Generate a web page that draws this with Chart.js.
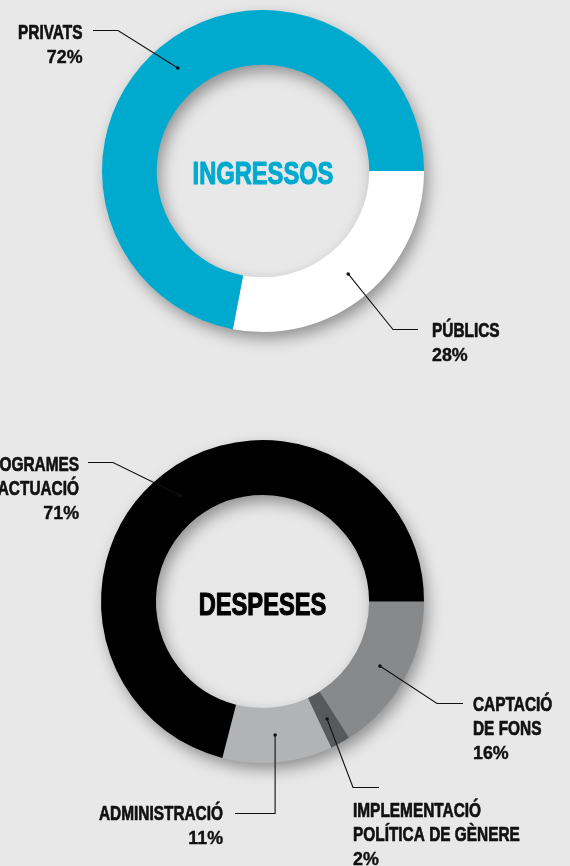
<!DOCTYPE html>
<html><head><meta charset="utf-8">
<script src="https://cdn.jsdelivr.net/npm/chart.js@4.4.1/dist/chart.umd.min.js"></script>
<style>
html,body{margin:0;padding:0;background:#e8e8e8;width:570px;height:866px;overflow:hidden}
.c{position:absolute;left:0;top:0;width:570px;height:866px}
</style></head><body>
<div class="c"><canvas id="topChart" width="570" height="866"></canvas></div>
<div class="c"><canvas id="botChart" width="570" height="866"></canvas></div>
<script>
// ---- DATA ----
const incomeTitle = 'INGRESSOS';
const incomeCategories = ['PÚBLICS', 'PRIVATS'];
const incomeLabelLines = [['PÚBLICS'], ['PRIVATS']];
const incomeValues = [28, 72];

const expenseTitle = 'DESPESES';
const expenseCategories = ['CAPTACIÓ DE FONS', 'IMPLEMENTACIÓ POLÍTICA DE GÈNERE', 'ADMINISTRACIÓ', "PROGRAMES D'ACTUACIÓ"];
const expenseLabelLines = [['CAPTACIÓ', 'DE FONS'], ['IMPLEMENTACIÓ', 'POLÍTICA DE GÈNERE'], ['ADMINISTRACIÓ'], ['PROGRAMES', "D'ACTUACIÓ"]];
const expenseValues = [16, 2, 11, 71];

// ---- STYLE / LAYOUT ----
const incomeColors = ['#ffffff', '#00aacf'];
const expenseColors = ['#88898b', '#58595b', '#b2b3b5', '#000000'];
const incomeLayout = [
  {elbow: [393, 329.5], end: [418, 329.5], text: [432, 337], align: 'left'},
  {elbow: [118, 30.5], end: [93, 30.5], text: [82.5, 39], align: 'right'}
];
const expenseLayout = [
  {elbow: [437, 703.5], end: [463, 703.5], text: [473, 711], align: 'left'},
  {elbow: [353, 787.5], end: [379, 787.5], text: [353, 817], align: 'left'},
  {elbow: [null, 813.5], end: [235, 813.5], text: [223, 820], align: 'right', vertical: true},
  {elbow: [113, 462.5], end: [88, 462.5], text: [79, 471], align: 'right'}
];

function drawText(ctx, text, x, y, size, align, sx, color, weight) {
  ctx.save();
  ctx.translate(x, y);
  ctx.scale(sx, 1);
  ctx.font = 'bold ' + size + 'px "Liberation Sans", Arial, sans-serif';
  ctx.textAlign = align;
  ctx.textBaseline = 'alphabetic';
  ctx.fillStyle = color;
  ctx.fillText(text, 0, 0);
  if (weight) {
    ctx.strokeStyle = color;
    ctx.lineWidth = weight;
    ctx.lineJoin = 'round';
    ctx.strokeText(text, 0, 0);
  }
  ctx.restore();
}

const ringShadow = {
  id: 'ringShadow',
  beforeDatasetsDraw(chart) {
    const a = chart.getDatasetMeta(0).data[0];
    const {x, y, outerRadius: R, innerRadius: r} = a.getProps(['x', 'y', 'outerRadius', 'innerRadius'], true);
    const ctx = chart.ctx;
    ctx.save();
    ctx.shadowColor = 'rgba(0,0,0,0.4)';
    ctx.shadowBlur = 16;
    ctx.shadowOffsetX = 4;
    ctx.shadowOffsetY = 7;
    ctx.beginPath();
    ctx.arc(x, y, R - 1, 0, Math.PI * 2);
    ctx.arc(x, y, r + 1, 0, Math.PI * 2, true);
    ctx.fillStyle = '#999';
    ctx.fill('evenodd');
    ctx.restore();
  }
};

function makeLabels(title, titleColor, lines, values, layout) {
  return {
    id: 'labels',
    afterDatasetsDraw(chart) {
      const ctx = chart.ctx;
      const meta = chart.getDatasetMeta(0);
      const first = meta.data[0];
      drawText(ctx, title, first.x, first.y + 13, 32, 'center', 0.74, titleColor, 1.2);
      meta.data.forEach((el, i) => {
        const p = el.getProps(['x', 'y', 'startAngle', 'endAngle', 'innerRadius', 'outerRadius'], true);
        const a = (p.startAngle + p.endAngle) / 2;
        const rr = (p.innerRadius + p.outerRadius) / 2;
        const px = p.x + Math.cos(a) * rr, py = p.y + Math.sin(a) * rr;
        const L = layout[i];
        const ex = L.vertical ? px : L.elbow[0];
        ctx.save();
        ctx.strokeStyle = '#111';
        ctx.lineWidth = 1.1;
        ctx.beginPath();
        ctx.moveTo(px, py);
        ctx.lineTo(ex, L.elbow[1]);
        ctx.lineTo(L.end[0], L.end[1]);
        ctx.stroke();
        ctx.fillStyle = '#111';
        ctx.beginPath();
        ctx.arc(px, py, 1.8, 0, Math.PI * 2);
        ctx.fill();
        ctx.restore();
        let ty = L.text[1];
        lines[i].forEach(t => {
          drawText(ctx, t, L.text[0], ty, 20, L.align, 0.77, '#111', 0.7);
          ty += 24;
        });
        drawText(ctx, values[i] + '%', L.text[0], ty, 17.5, L.align, 1.02, '#111', 0.4);
      });
    }
  };
}

function doughnut(id, labels, values, colors, padding, plugins) {
  return new Chart(document.getElementById(id), {
    type: 'doughnut',
    data: {labels: labels, datasets: [{data: values, backgroundColor: colors, borderWidth: 0, hoverOffset: 0}]},
    options: {
      responsive: false,
      animation: false,
      rotation: 90,
      cutout: '66%',
      layout: {padding: padding},
      plugins: {legend: {display: false}, tooltip: {enabled: false}},
      events: []
    },
    plugins: plugins
  });
}

doughnut('topChart', incomeCategories, incomeValues, incomeColors,
  {left: 102, right: 146, top: 10, bottom: 534},
  [ringShadow, makeLabels(incomeTitle, '#00aacf', incomeLabelLines, incomeValues, incomeLayout)]);
doughnut('botChart', expenseCategories, expenseValues, expenseColors,
  {left: 101, right: 146, top: 440, bottom: 103},
  [ringShadow, makeLabels(expenseTitle, '#000000', expenseLabelLines, expenseValues, expenseLayout)]);
</script>
</body></html>
